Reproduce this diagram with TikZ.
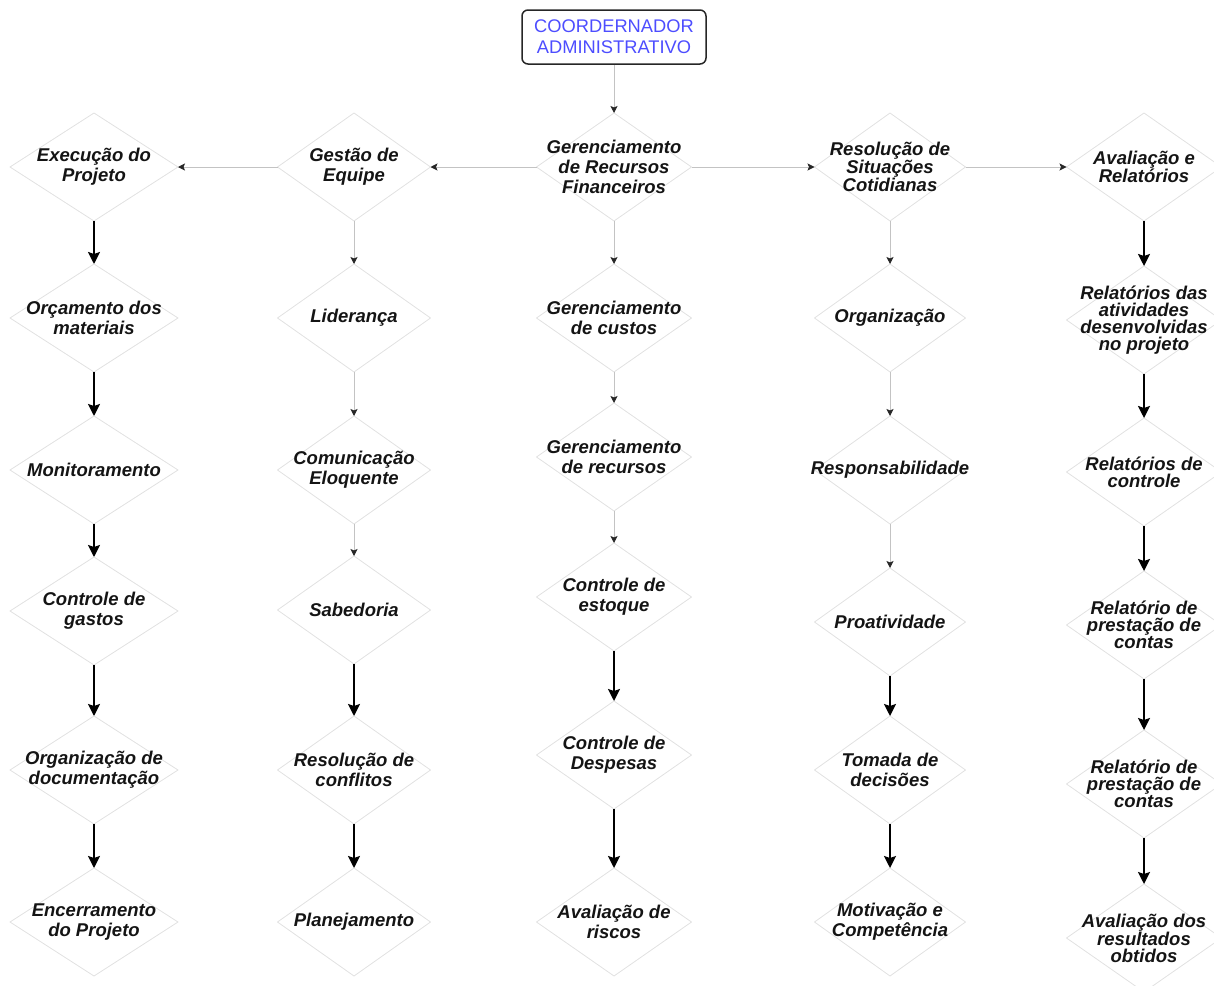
\documentclass[tikz,border=0pt]{standalone}
\usepackage{fontspec}
\setmainfont{Liberation Sans}
\newfontfamily\arl{Liberation Sans}
\usetikzlibrary{shapes.geometric,arrows.meta}

\definecolor{titleblue}{RGB}{77,77,255}
\definecolor{rimgray}{RGB}{225,225,225}
\definecolor{thingray}{RGB}{195,195,195}
\definecolor{inkdark}{RGB}{20,20,20}

\tikzset{
  dia/.style={diamond, draw=rimgray, line width=0.8pt, inner sep=0pt, outer sep=0pt,
              minimum width=155pt, minimum height=108pt},
  txt/.style={align=center, text=inkdark, inner sep=0pt,
              font=\arl\bfseries\itshape\fontsize{18.5}{20}\selectfont},
  txtc/.style={align=center, text=inkdark, inner sep=0pt,
              font=\arl\bfseries\itshape\fontsize{18.5}{17}\selectfont},
  headbox/.style={draw=black!85, line width=1.5pt, rounded corners=6pt,
              minimum width=184pt, minimum height=54pt, inner sep=0pt,
              align=center, text=titleblue, font=\arl\fontsize{18.3}{21}\selectfont},
  thinarrow/.style={draw=thingray, line width=0.8pt,
              -{Stealth[length=7pt,width=7pt,inset=1.5pt,color=black!85]}},
  bolderarrow/.style={draw=black, line width=2pt,
              -{Stealth[length=12pt,width=12pt,inset=2pt]}}
}

% #1 name, #2 x, #3 y, #4 width, #5 label style, #6 text
\newcommand\dianode[6]{%
  \node[dia, minimum width=#4pt, label={[#5]center:{#6}}] (#1) at (#2,#3) {};}

\begin{document}
\begin{tikzpicture}[x=1pt, y=-1pt]
\useasboundingbox (0,0) rectangle (1214,985);
\begin{scope}
\clip (0,0) rectangle (1214,985);

% title box
\node[headbox] (coord) at (614,37) {COORDERNADOR\\ADMINISTRATIVO};

% column 1
\dianode{a1}{94}{167}{168}{txt}{Execução do\\Projeto}
\dianode{a2}{94}{318}{168}{txt}{Orçamento dos\\materiais}
\dianode{a3}{94}{470}{168}{txt}{Monitoramento}
\dianode{a4}{94}{611}{168}{txt}{Controle de\\gastos}
\dianode{a5}{94}{770}{168}{txt}{Organização de\\documentação}
\dianode{a6}{94}{922}{168}{txt}{Encerramento\\do Projeto}

% column 2
\dianode{b1}{354}{167}{153}{txt}{Gestão de\\Equipe}
\dianode{b2}{354}{318}{153}{txt}{Liderança}
\dianode{b3}{354}{470}{153}{txt}{Comunicação\\Eloquente}
\dianode{b4}{354}{610}{153}{txt}{Sabedoria}
\dianode{b5}{354}{770}{153}{txt}{Resolução de\\conflitos}
\dianode{b6}{354}{922}{153}{txt}{Planejamento}

% column 3
\dianode{c1}{614}{167}{155}{txt}{Gerenciamento\\de Recursos\\Financeiros}
\dianode{c2}{614}{318}{155}{txt}{Gerenciamento\\de custos}
\dianode{c3}{614}{457}{155}{txt}{Gerenciamento\\de recursos}
\dianode{c4}{614}{597}{155}{txt}{Controle de\\estoque}
\dianode{c5}{614}{755}{155}{txt}{Controle de\\Despesas}
\dianode{c6}{614}{922}{155}{txt}{Avaliação de\\riscos}

% column 4
\dianode{d1}{890}{167}{151}{txtc}{Resolução de\\Situações\\Cotidianas}
\dianode{d2}{890}{318}{151}{txt}{Organização}
\dianode{d3}{890}{470}{151}{txt}{Responsabilidade}
\dianode{d4}{890}{622}{151}{txt}{Proatividade}
\dianode{d5}{890}{770}{151}{txt}{Tomada de\\decisões}
\dianode{d6}{890}{922}{151}{txt}{Motivação e\\Competência}

% column 5
\dianode{e1}{1144}{167}{155}{txtc}{Avaliação e\\Relatórios}
\dianode{e2}{1144}{320}{155}{txtc}{Relatórios das\\atividades\\desenvolvidas\\no projeto}
\dianode{e3}{1144}{472}{155}{txtc}{Relatórios de\\controle}
\dianode{e4}{1144}{625}{155}{txtc}{Relatório de\\prestação de\\contas}
\dianode{e5}{1144}{784}{155}{txtc}{Relatório de\\prestação de\\contas}
\dianode{e6}{1144}{938}{155}{txtc}{Avaliação dos\\resultados\\obtidos}

% links from the coordinator and along the top row
\draw[thinarrow] (coord.south) -- (c1.north);
\draw[thinarrow] (c1.west) -- (b1.east);
\draw[thinarrow] (b1.west) -- (a1.east);
\draw[thinarrow] (c1.east) -- (d1.west);
\draw[thinarrow] (d1.east) -- (e1.west);

% column 1
\draw[bolderarrow] (a1.south) -- (a2.north);
\draw[bolderarrow] (a2.south) -- (a3.north);
\draw[bolderarrow] (a3.south) -- (a4.north);
\draw[bolderarrow] (a4.south) -- (a5.north);
\draw[bolderarrow] (a5.south) -- (a6.north);

% column 2
\draw[thinarrow] (b1.south) -- (b2.north);
\draw[thinarrow] (b2.south) -- (b3.north);
\draw[thinarrow] (b3.south) -- (b4.north);
\draw[bolderarrow] (b4.south) -- (b5.north);
\draw[bolderarrow] (b5.south) -- (b6.north);

% column 3
\draw[thinarrow] (c1.south) -- (c2.north);
\draw[thinarrow] (c2.south) -- (c3.north);
\draw[thinarrow] (c3.south) -- (c4.north);
\draw[bolderarrow] (c4.south) -- (c5.north);
\draw[bolderarrow] (c5.south) -- (c6.north);

% column 4
\draw[thinarrow] (d1.south) -- (d2.north);
\draw[thinarrow] (d2.south) -- (d3.north);
\draw[thinarrow] (d3.south) -- (d4.north);
\draw[bolderarrow] (d4.south) -- (d5.north);
\draw[bolderarrow] (d5.south) -- (d6.north);

% column 5
\draw[bolderarrow] (e1.south) -- (e2.north);
\draw[bolderarrow] (e2.south) -- (e3.north);
\draw[bolderarrow] (e3.south) -- (e4.north);
\draw[bolderarrow] (e4.south) -- (e5.north);
\draw[bolderarrow] (e5.south) -- (e6.north);
\end{scope}
\end{tikzpicture}
\end{document}
